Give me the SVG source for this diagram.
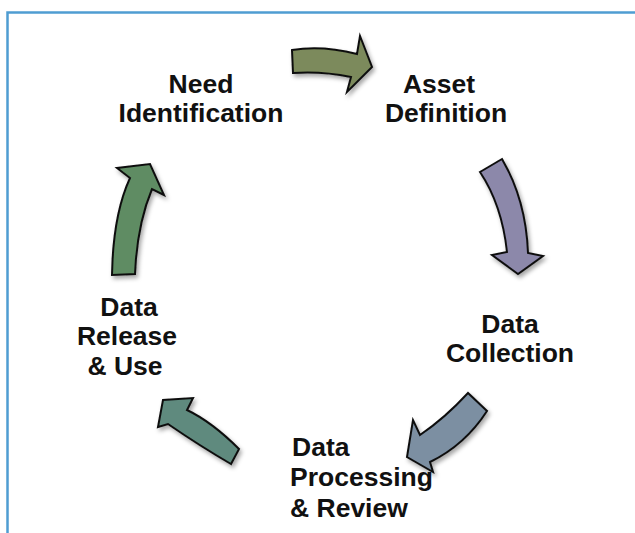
<svg xmlns="http://www.w3.org/2000/svg" width="635" height="533" viewBox="0 0 635 533">
  <style>
    .lbl { font-family: "Liberation Sans", Arial, sans-serif; font-weight: bold; font-size: 26.5px; fill: #111; }
    .arrow { stroke: #111; stroke-width: 2; stroke-linejoin: miter; filter: url(#shadow); }
    .frame { stroke: #4f9dd2; stroke-width: 2.5; fill: none; }
  </style>
  <defs>
    <filter id="shadow" x="-30%" y="-30%" width="160%" height="160%">
      <feDropShadow dx="2" dy="3" stdDeviation="2" flood-color="#000" flood-opacity="0.35"/>
    </filter>
  </defs>

  <rect width="635" height="533" fill="#fff"/>
  <!-- frame edges -->
  <path class="frame" d="M7.5,533 V12.5 H635"/>

  <g id="connectors">
    <!-- Need Identification -> Asset Definition -->
    <path id="arrow-need-asset" class="arrow" fill="#7b8a5b"
      d="M292,50 Q322,45 357,54 L360,36 L372,67 L347,92 L351,77 Q322,71 293,73 Z"/>
    <!-- Asset Definition -> Data Collection -->
    <path id="arrow-asset-collection" class="arrow" fill="#8c88aa"
      d="M502,159 Q526,200 528,253 L543,256 L518,274 L492,255 L507,252 Q502,205 480,172 Z"/>
    <!-- Data Collection -> Data Processing & Review -->
    <path id="arrow-collection-processing" class="arrow" fill="#7b8fa2"
      d="M468,393 Q445,418 420,435 L413,420 L407,457 L433,472 L430,462 Q465,445 487,411 Z"/>
    <!-- Data Processing & Review -> Data Release & Use -->
    <path id="arrow-processing-release" class="arrow" fill="#5f8a7e"
      d="M239,449 Q212,422 187,410 L193,398 L163,400 L158,427 L168,424 Q200,446 231,464 Z"/>
    <!-- Data Release & Use -> Need Identification -->
    <path id="arrow-release-need" class="arrow" fill="#5f8c63"
      d="M112,275 Q113,215 130,178 L117,168 L150,164 L164,195 L152,189 Q137,225 135,274 Z"/>
  </g>

  <g id="need-identification">
    <text class="lbl" x="201" y="93" text-anchor="middle">Need</text>
    <text class="lbl" x="201" y="122" text-anchor="middle">Identification</text>
  </g>
  <g id="asset-definition">
    <text class="lbl" x="439" y="93" text-anchor="middle">Asset</text>
    <text class="lbl" x="446" y="122" text-anchor="middle">Definition</text>
  </g>
  <g id="data-collection">
    <text class="lbl" x="510" y="333" text-anchor="middle">Data</text>
    <text class="lbl" x="510" y="362" text-anchor="middle">Collection</text>
  </g>
  <g id="data-processing-review">
    <text class="lbl" x="292" y="456">Data</text>
    <text class="lbl" x="290" y="486">Processing</text>
    <text class="lbl" x="290" y="517">&amp; Review</text>
  </g>
  <g id="data-release-use">
    <text class="lbl" x="129" y="316" text-anchor="middle">Data</text>
    <text class="lbl" x="127" y="345" text-anchor="middle">Release</text>
    <text class="lbl" x="125" y="375" text-anchor="middle">&amp; Use</text>
  </g>
</svg>
